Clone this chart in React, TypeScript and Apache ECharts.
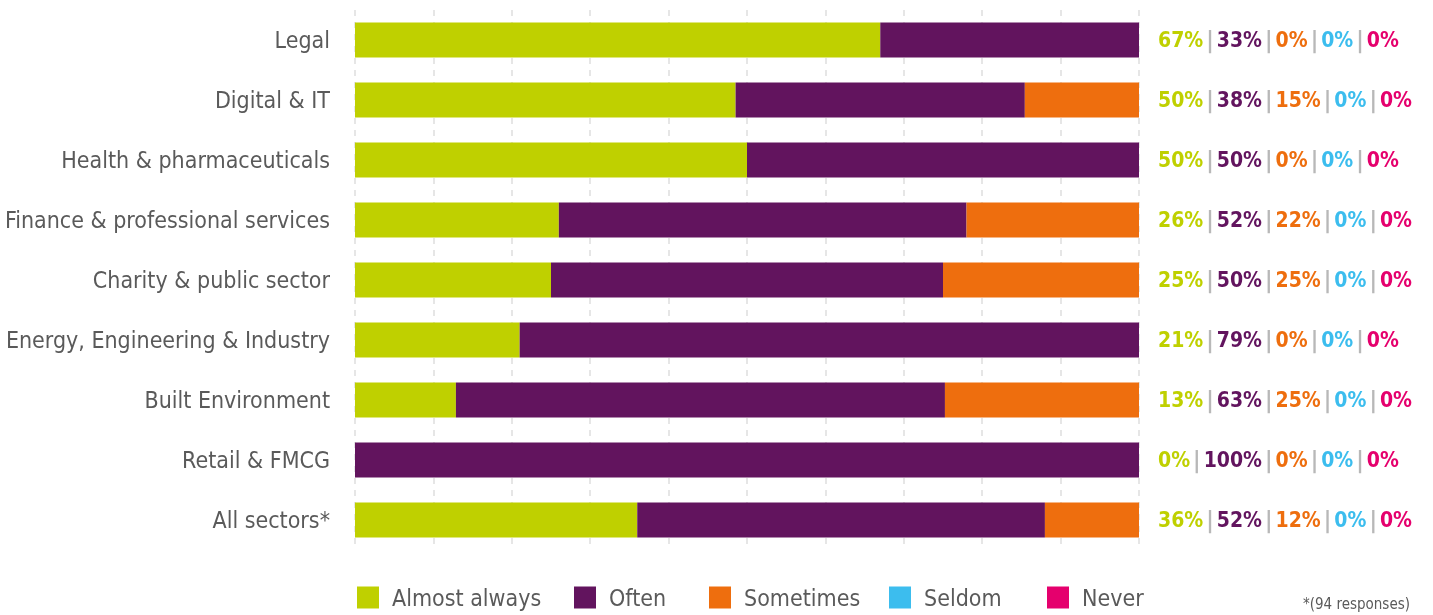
import React, { useEffect, useRef } from "react";
import * as echarts from "echarts";

const categories = [
  "Legal",
  "Digital & IT",
  "Health & pharmaceuticals",
  "Finance & professional services",
  "Charity & public sector",
  "Energy, Engineering & Industry",
  "Built Environment",
  "Retail & FMCG",
  "All sectors*",
];
const seriesNames = ["Almost always", "Often", "Sometimes", "Seldom", "Never"];
const almostAlways = [67, 50, 50, 26, 25, 21, 13, 0, 36];
const often = [33, 38, 50, 52, 50, 79, 63, 100, 52];
const sometimes = [0, 15, 0, 22, 25, 0, 25, 0, 12];
const seldom = [0, 0, 0, 0, 0, 0, 0, 0, 0];
const never = [0, 0, 0, 0, 0, 0, 0, 0, 0];
const colors = ["#BFD000", "#62145E", "#EE6E0E", "#3CBDEE", "#E5006D"];
const footnote = "*(94 responses)";

const FONT = "'DejaVu Sans Condensed', 'Liberation Sans Narrow', 'Roboto', sans-serif";

export default function App() {
  const ref = useRef<HTMLDivElement>(null);
  useEffect(() => {
    if (!ref.current) return;
    const chart = echarts.init(ref.current, undefined, { renderer: "svg" });
    const all = [almostAlways, often, sometimes, seldom, never];
    const totals = categories.map((_, i) => all.reduce((s, a) => s + a[i], 0));
    const norm = all.map((a) => a.map((v, i) => (v / totals[i]) * 100));
    const keys = ["a", "b", "c", "d", "e"];
    const rich: any = {
      s: { color: "#b8b8b8", fontSize: 23, fontWeight: "bold", fontFamily: FONT, padding: [0, 3, 0, 3] },
    };
    keys.forEach((k, j) => {
      rich[k] = { color: colors[j], fontSize: 21, fontWeight: "bold", fontFamily: FONT };
    });
    const legendLefts = [357, 574, 709, 889, 1047];
    chart.setOption({
      animation: false,
      grid: { left: 355, top: 10, width: 784, height: 540, containLabel: false, outerBoundsMode: "none" },
      xAxis: {
        type: "value",
        min: 0,
        max: 100,
        interval: 10,
        axisLabel: { show: false },
        axisLine: { show: false },
        axisTick: { show: false },
        splitLine: { show: true, lineStyle: { color: "#dedede", width: 1.5, type: [6, 6] } },
      },
      yAxis: [
        {
          type: "category",
          data: categories,
          inverse: true,
          axisLine: { show: false },
          axisTick: { show: false },
          axisLabel: { color: "#5a5a5a", fontSize: 23, fontFamily: FONT, margin: 25 },
        },
        {
          type: "category",
          data: categories,
          inverse: true,
          position: "right",
          axisLine: { show: false },
          axisTick: { show: false },
          axisLabel: {
            margin: 19,
            formatter: (_v: string, i: number) =>
              keys.map((k, j) => `{${k}|${all[j][i]}%}`).join("{s||}"),
            rich,
          },
        },
      ],
      legend: seriesNames.map((n, j) => ({
        data: [n],
        left: legendLefts[j],
        top: 586,
        padding: 0,
        icon: "rect",
        itemWidth: 22,
        itemHeight: 22,
        itemGap: 0,
        textStyle: { color: "#5a5a5a", fontSize: 23, fontFamily: FONT, padding: [0, 0, 0, 8] },
        selectedMode: false,
      })),
      series: seriesNames.map((n, j) => ({
        name: n,
        type: "bar",
        stack: "total",
        barWidth: 35,
        itemStyle: { color: colors[j] },
        data: norm[j],
      })),
      graphic: [
        {
          type: "text",
          right: 23,
          bottom: 4,
          style: { text: footnote, fill: "#5a5a5a", fontSize: 15, fontFamily: FONT },
        },
      ],
    });
    return () => chart.dispose();
  }, []);
  return <div ref={ref} style={{ position: "fixed", left: 0, top: 0, width: 1433, height: 615 }} />;
}
